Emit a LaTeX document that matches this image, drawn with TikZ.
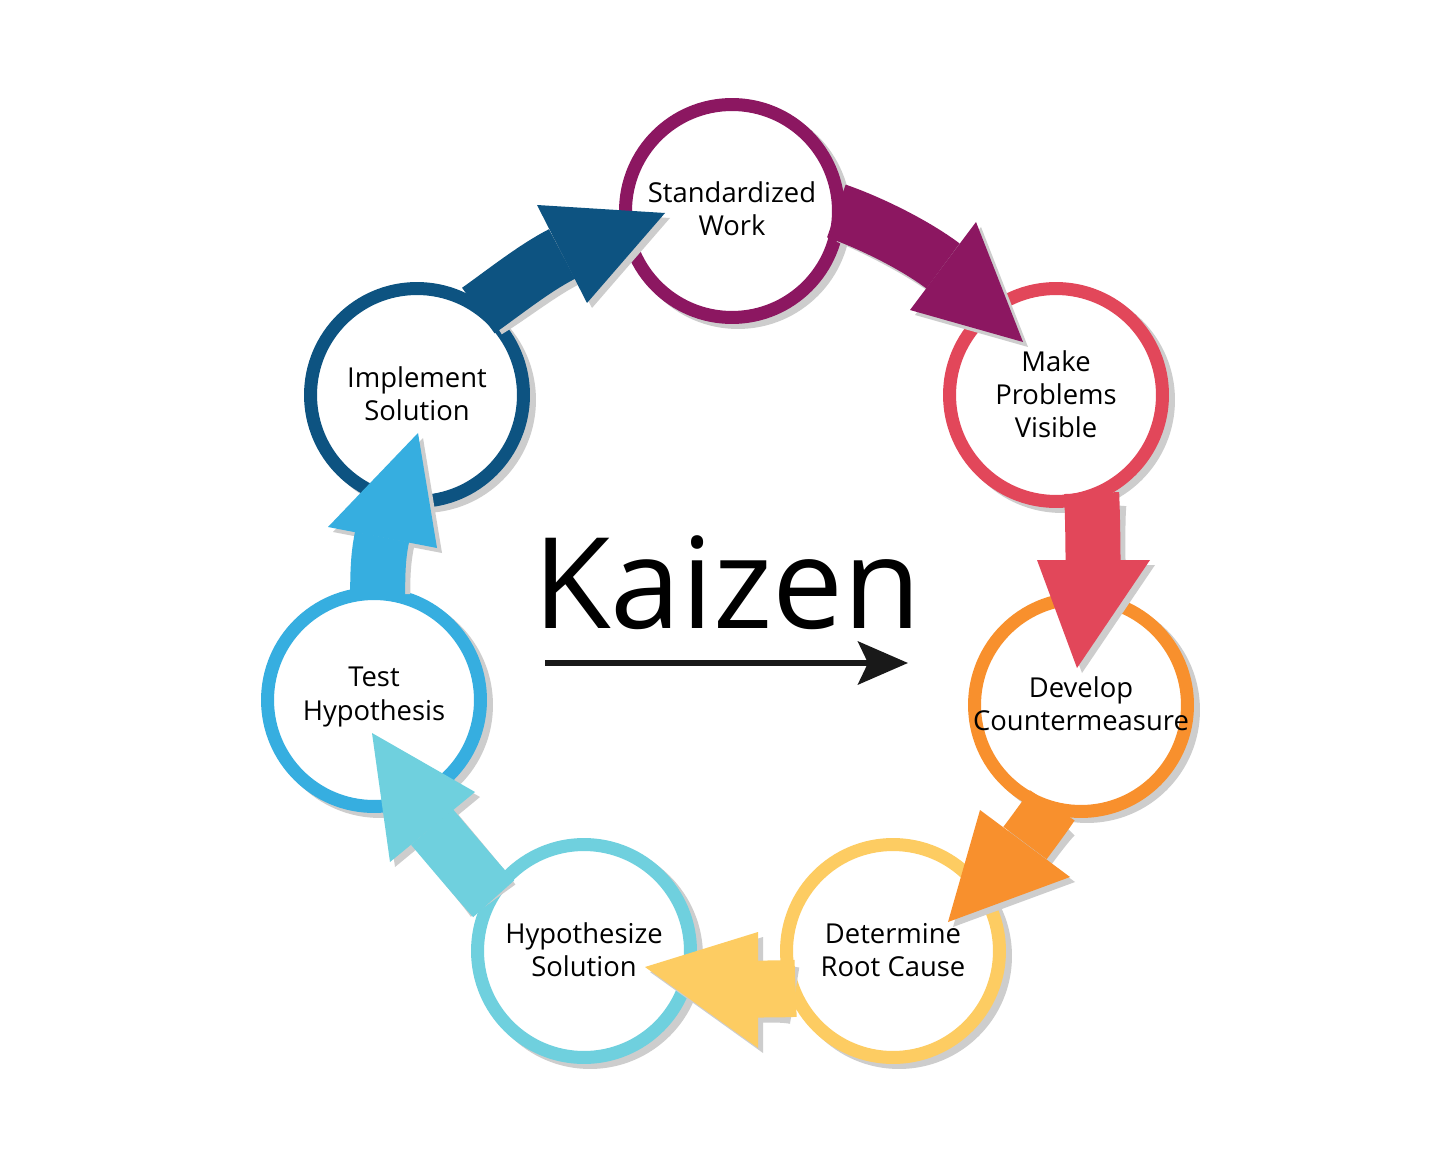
\documentclass[tikz,border=0pt]{standalone}
\usepackage{fontspec}
\setmainfont{Open Sans}
\usetikzlibrary{calc,arrows.meta}
\definecolor{kpurple}{HTML}{8C1761}
\definecolor{kred}{HTML}{E2475A}
\definecolor{korange}{HTML}{F8902D}
\definecolor{kyellow}{HTML}{FDCC62}
\definecolor{kcyan}{HTML}{6FD0DE}
\definecolor{klblue}{HTML}{36AEE0}
\definecolor{kdblue}{HTML}{0D5381}
\definecolor{kshadow}{HTML}{CDCDCD}
\tikzset{
  ring/.style={circle, draw=#1, line width=0.26cm, fill=white, minimum size=4.26cm, inner sep=0pt, outer sep=0pt},
  lbl/.style={align=center, font=\fontsize{15.6pt}{18.8pt}\selectfont, text=black, inner sep=0pt},
}
\newcommand\tailf{0.98}
% #1 colour, #2 source node, #3 angle on source ring, #4 coordinate prefix, #5 shaft width
\newcommand\karrow[5]{%
  \draw[#1, line width=#5, line cap=butt] ($(#2.center)!\tailf!(#2.#3)$) .. controls (#4c1) and (#4c2) .. (#4b);
  \fill[#1] (#4l) -- (#4t) -- (#4r) -- cycle;}
\begin{document}
\begin{tikzpicture}[x=0.02cm, y=-0.02cm]
\useasboundingbox (0,0) rectangle (1456,1165);
\fill[white] (0,0) rectangle (1456,1165);
% centres
\coordinate (p1) at (732,211);
\coordinate (p2) at (1056,395);
\coordinate (p3) at (1081,705);
\coordinate (p4) at (893,951);
\coordinate (p5) at (584,951);
\coordinate (p6) at (374,700);
\coordinate (p7) at (417,395);
% circle shadows
\foreach \i in {1,...,7} {\fill[kshadow] ($(p\i)+(6,5)$) circle (2.26cm);}
% circles
\node[ring=kpurple] (n1) at (p1) {};
\node[ring=kred]    (n2) at (p2) {};
\node[ring=korange] (n3) at (p3) {};
\node[ring=kyellow] (n4) at (p4) {};
\node[ring=kcyan]   (n5) at (p5) {};
\node[ring=klblue]  (n6) at (p6) {};
\node[ring=kdblue]  (n7) at (p7) {};
% arrow geometry
\coordinate (a1c1) at ($(n1)+(139,12)$);
\coordinate (a1c2) at ($(n2)+(-141,-150)$);
\coordinate (a1b)  at ($(n2)+(-113,-129)$);
\coordinate (a1l)  at ($(n2)+(-80,-173)$);
\coordinate (a1r)  at ($(n2)+(-146,-85)$);
\coordinate (a1t)  at ($(n2)+(-33,-53)$);
\coordinate (a2c1) at ($(n2)+(36.5,120)$);
\coordinate (a2c2) at ($(n3)+(12,-165)$);
\coordinate (a2b)  at ($(n3)+(12,-145)$);
\coordinate (a2l)  at ($(n3)+(-44,-145)$);
\coordinate (a2r)  at ($(n3)+(69,-145)$);
\coordinate (a2t)  at ($(n3)+(-4,-37)$);
\coordinate (a3c1) at ($(n3)+(-36.6,112)$);
\coordinate (a3c2) at ($(n4)+(139.2,-117.6)$);
\coordinate (a3b)  at ($(n4)+(132,-108)$);
\coordinate (a3l)  at ($(n4)+(87,-141)$);
\coordinate (a3r)  at ($(n4)+(177,-74)$);
\coordinate (a3t)  at ($(n4)+(55,-29)$);
\coordinate (a4c1) at ($(n4)+(-112,38)$);
\coordinate (a4c2) at ($(n5)+(186,38)$);
\coordinate (a4b)  at ($(n5)+(174,38)$);
\coordinate (a4l)  at ($(n5)+(174,-19)$);
\coordinate (a4r)  at ($(n5)+(174,97)$);
\coordinate (a4t)  at ($(n5)+(61,16)$);
\coordinate (a5c1) at ($(n5)+(-105.1,-68.5)$);
\coordinate (a5c2) at ($(n6)+(70.9,142.3)$);
\coordinate (a5b)  at ($(n6)+(58,127)$);
\coordinate (a5l)  at ($(n6)+(101,92)$);
\coordinate (a5r)  at ($(n6)+(16,162)$);
\coordinate (a5t)  at ($(n6)+(-2,33)$);
\coordinate (a6c1) at ($(n6)+(3.7,-127)$);
\coordinate (a6c2) at ($(n7)+(-39,161.6)$);
\coordinate (a6b)  at ($(n7)+(-35,142)$);
\coordinate (a6l)  at ($(n7)+(-89,132)$);
\coordinate (a6r)  at ($(n7)+(20,153)$);
\coordinate (a6t)  at ($(n7)+(1,38)$);
\coordinate (a7c1) at ($(n7)+(87.5,-103)$);
\coordinate (a7c2) at ($(n1)+(-196.7,56.5)$);
\coordinate (a7b)  at ($(n1)+(-170,43)$);
\coordinate (a7l)  at ($(n1)+(-195,-6)$);
\coordinate (a7r)  at ($(n1)+(-145,92)$);
\coordinate (a7t)  at ($(n1)+(-67,2)$);
% arrow shadows
\renewcommand\tailf{1.04}
\begin{scope}[transform canvas={shift={(5,5)}}]
\karrow{kshadow}{n1}{0}{a1}{1.12cm}
\karrow{kshadow}{n2}{-70}{a2}{1.1cm}
\karrow{kshadow}{n3}{-106}{a3}{1.08cm}
\karrow{kshadow}{n4}{201}{a4}{1.14cm}
\karrow{kshadow}{n5}{150}{a5}{1.1cm}
\karrow{kshadow}{n6}{88}{a6}{1.1cm}
\karrow{kshadow}{n7}{54}{a7}{1.12cm}
\end{scope}
% arrows
\renewcommand\tailf{0.98}
\karrow{kpurple}{n1}{0}{a1}{1.12cm}
\karrow{kred}{n2}{-70}{a2}{1.1cm}
\karrow{korange}{n3}{-106}{a3}{1.08cm}
\karrow{kyellow}{n4}{201}{a4}{1.14cm}
\karrow{kcyan}{n5}{150}{a5}{1.1cm}
\karrow{klblue}{n6}{88}{a6}{1.1cm}
\karrow{kdblue}{n7}{54}{a7}{1.12cm}
% labels
\node[lbl] (t1) at ($(n1)+(0,-2)$) {Standardized\\Work};
\node[lbl] (t2) at ($(n2)+(0,-1)$) {Make\\Problems\\Visible};
\node[lbl] (t3) at ($(n3)+(0,-1)$) {Develop\\Countermeasure};
\node[lbl] (t4) at ($(n4)+(0,-1)$) {Determine\\Root Cause};
\node[lbl] (t5) at ($(n5)+(0,-1)$) {Hypothesize\\Solution};
\node[lbl] (t6) at ($(n6)+(0,-3)$) {Test\\Hypothesis};
\node[lbl] (t7) at ($(n7)+(0,-1)$) {Implement\\Solution};
% title
\node[font=\fontsize{72pt}{72pt}\selectfont, anchor=base, inner sep=0pt, text=black] (kz) at (727,628) {Kaizen};
\coordinate (ka) at (545,663);
\coordinate (kb) at (908,663);
\draw[line width=0.12cm, black!90, -{Stealth[length=1cm 0 0, width=0.86cm 0 0, inset=0.2cm]}] (ka) -- (kb);
\end{tikzpicture}
\end{document}
